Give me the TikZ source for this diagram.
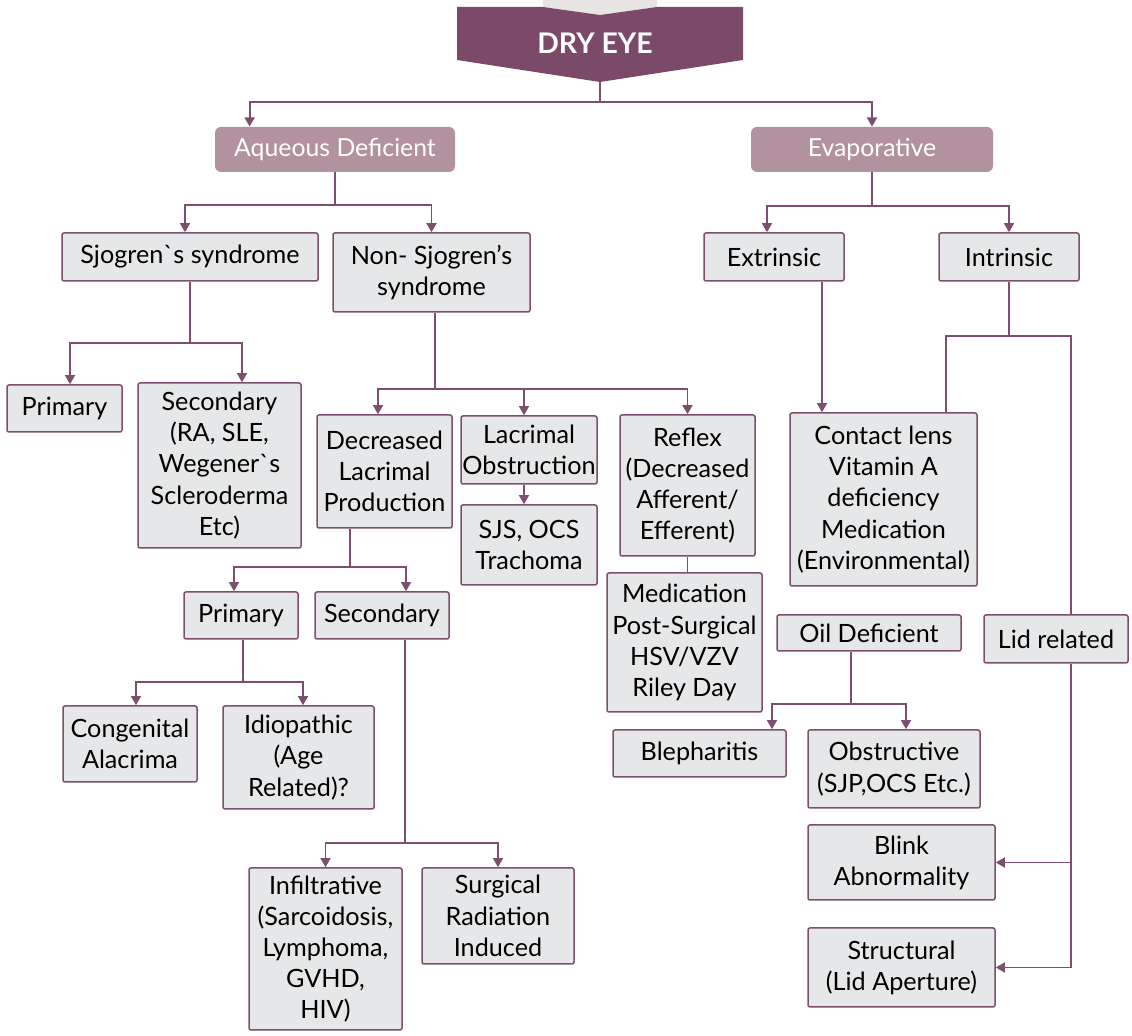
\documentclass[tikz,border=0pt]{standalone}
\usepackage{fontspec}
\newfontfamily\lato{Lato}
\usetikzlibrary{arrows.meta}

\definecolor{lnc}{HTML}{7D4E6E}
\definecolor{boxfill}{HTML}{E6E7E8}
\definecolor{mauve}{HTML}{B3929F}
\definecolor{banner}{HTML}{7B4A68}
\definecolor{topgray}{HTML}{E9E4E4}

\tikzset{
  box/.style={draw=lnc, fill=boxfill, line width=0.75pt, rounded corners=1pt,
    align=center, inner sep=0pt, text=black,
    font=\lato\fontsize{12.6}{15.6}\selectfont},
  hdr/.style={fill=mauve, rounded corners=3pt, inner sep=0pt, text=white,
    font=\lato\fontsize{12.4}{15}\selectfont},
  ln/.style={draw=lnc, line width=0.95pt},
  arr/.style={draw=lnc, line width=0.95pt, -{Triangle[length=4.6pt,width=5pt]}},
}

\begin{document}
\begin{tikzpicture}[x=0.5pt, y=-0.5pt]
\useasboundingbox (0,0) rectangle (1132,1036);

% title banner
\fill[topgray] (543,0) -- (657,0) -- (657,7) -- (600,15) -- (543,7) -- cycle;
\fill[banner] (457,7) -- (543,7) -- (600,15) -- (657,7) -- (743,7) -- (743,60)
  -- (600,82) -- (457,60) -- cycle;
\node[text=white, font=\lato\bfseries\fontsize{14.2}{16}\selectfont] (dry) at (595,43) {DRY EYE};
\coordinate (drytip) at (600,82);

% main classes
\node[hdr, minimum width=120pt, minimum height=22.5pt] (aq) at (335,149.5) {Aqueous Deficient};
\node[hdr, minimum width=121pt, minimum height=22.5pt] (ev) at (872,149.5) {Evaporative};

% aqueous deficient branch
\node[box, minimum width=128pt, minimum height=24pt] (sj) at (190,257) {Sjogren`s syndrome};
\node[box, minimum width=98.5pt, minimum height=39.5pt] (nsj) at (431.5,272.5) {Non- Sjogren’s\\syndrome};
\node[box, minimum width=57.5pt, minimum height=23.5pt] (pri1) at (64.5,408.5) {Primary};
\node[box, minimum width=81.5pt, minimum height=82.5pt] (sec1) at (219.5,465.5) {Secondary\\(RA, SLE,\\Wegener`s\\Scleroderma\\Etc)};
\node[box, minimum width=67.5pt, minimum height=56.5pt] (dlp) at (384.5,471.5) {Decreased\\Lacrimal\\Production};
\node[box, minimum width=68pt, minimum height=34pt] (lob) at (529,450) {Lacrimal\\Obstruction};
\node[box, minimum width=68pt, minimum height=40pt] (sjs) at (529,545) {SJS, OCS\\Trachoma};
\node[box, minimum width=67.5pt, minimum height=70.5pt] (refl) at (687.5,485.5) {Reflex\\(Decreased\\Afferent/\\Efferent)};
\node[box, minimum width=77.5pt, minimum height=69.5pt] (med) at (684.5,642.5) {Medication\\Post-Surgical\\HSV/VZV\\Riley Day};
\node[box, minimum width=57pt, minimum height=23.5pt] (pri2) at (241,615.5) {Primary};
\node[box, minimum width=67pt, minimum height=23.5pt] (sec2) at (382,615.5) {Secondary};
\node[box, minimum width=67pt, minimum height=38pt] (cong) at (130,744) {Congenital\\Alacrima};
\node[box, minimum width=75.5pt, minimum height=51.5pt] (idio) at (298.5,757.5) {Idiopathic\\(Age\\Related)?};
\node[box, minimum width=76.5pt, minimum height=81pt] (inf) at (325.5,949) {Infiltrative\\(Sarcoidosis,\\Lymphoma,\\GVHD,\\HIV)};
\node[box, minimum width=76pt, minimum height=48pt] (surg) at (498,916) {Surgical\\Radiation\\Induced};

% evaporative branch
\node[box, minimum width=70pt, minimum height=24pt] (ext) at (774,257) {Extrinsic};
\node[box, minimum width=70pt, minimum height=24pt] (intr) at (1009,257) {Intrinsic};
\node[box, minimum width=93.5pt, minimum height=86.5pt] (cl) at (883.5,499.5) {Contact lens\\Vitamin A\\deficiency\\Medication\\(Environmental)};
\node[box, minimum width=92pt, minimum height=18pt] (oil) at (869,633) {Oil Deficient};
\node[box, minimum width=72pt, minimum height=24pt] (lid) at (1056,639) {Lid related};
\node[box, minimum width=86.5pt, minimum height=23.5pt] (bleph) at (699.5,753.5) {Blepharitis};
\node[box, minimum width=86pt, minimum height=39pt] (obs) at (894,769) {Obstructive\\(SJP,OCS Etc.)};
\node[box, minimum width=93.5pt, minimum height=37.5pt] (blink) at (901.5,862.5) {Blink\\Abnormality};
\node[box, minimum width=93.5pt, minimum height=39.5pt] (struct) at (901.5,967.5) {Structural\\(Lid Aperture)};

% connectors: top level
\draw[ln] (drytip) -- ++(0,20) coordinate (j0);
\draw[arr] (j0) -| ([xshift=17.5pt]aq.north west);
\draw[arr] (j0) -| (ev.north);

% aqueous deficient
\draw[ln] (aq.south) -- ++(0,33) coordinate (j1);
\draw[arr] (j1) -| ([xshift=-2.5pt]sj.north);
\draw[arr] (j1) -| (nsj.north);

\draw[ln] (sj.south) -- ++(0,61) coordinate (j2);
\draw[arr] (j2) -| ([xshift=2.75pt]pri1.north);
\draw[arr] (j2) -| ([xshift=11.25pt]sec1.north);

\draw[ln] ([xshift=1.75pt]nsj.south) -- ++(0,76) coordinate (j3);
\draw[arr] (j3) -| ([xshift=-3.25pt]dlp.north);
\draw[arr] (j3) -| ([xshift=-2.5pt]lob.north);
\draw[arr] (j3) -| (refl.north);

\draw[arr] ([xshift=-2.5pt]lob.south) -- ([xshift=-2.5pt]sjs.north);
\draw[ln] (refl.south) -- (refl.south |- med.north);

\draw[ln] ([xshift=-17.25pt]dlp.south) -- ++(0,38) coordinate (j7);
\draw[arr] (j7) -| ([xshift=-3.5pt]pri2.north);
\draw[arr] (j7) -| ([xshift=12pt]sec2.north);

\draw[ln] ([xshift=1pt]pri2.south) -- ++(0,42) coordinate (j8);
\draw[arr] (j8) -| ([xshift=3pt]cong.north);
\draw[arr] (j8) -| ([xshift=2.25pt]idio.north);

\draw[ln] ([xshift=11.5pt]sec2.south) -- ++(0,203) coordinate (j9);
\draw[arr] (j9) -| (inf.north);
\draw[arr] (j9) -| (surg.north);

% evaporative
\draw[ln] (ev.south) -- ++(0,34) coordinate (j4);
\draw[arr] (j4) -| ([xshift=-3.5pt]ext.north);
\draw[arr] (j4) -| (intr.north);

\draw[arr] ([xshift=24pt]ext.south) -- ([xshift=24pt]ext.south |- cl.north);

\draw[ln] (intr.south) -- ++(0,54) coordinate (j5);
\draw[ln] (j5) -| ([xshift=-16pt]cl.north east);
\draw[ln] (j5) -| ([xshift=7.5pt]lid.north);

\coordinate (lidb) at ([xshift=7.5pt]lid.south);
\draw[arr] (lidb) |- (struct.east);
\draw[arr] (lidb |- blink.east) -- (blink.east);

\draw[ln] ([xshift=-9pt]oil.south) -- ++(0,52) coordinate (j6);
\draw[arr] (j6) -| ([xshift=36.25pt]bleph.north);
\draw[arr] (j6) -| ([xshift=6pt]obs.north);
\end{tikzpicture}
\end{document}
